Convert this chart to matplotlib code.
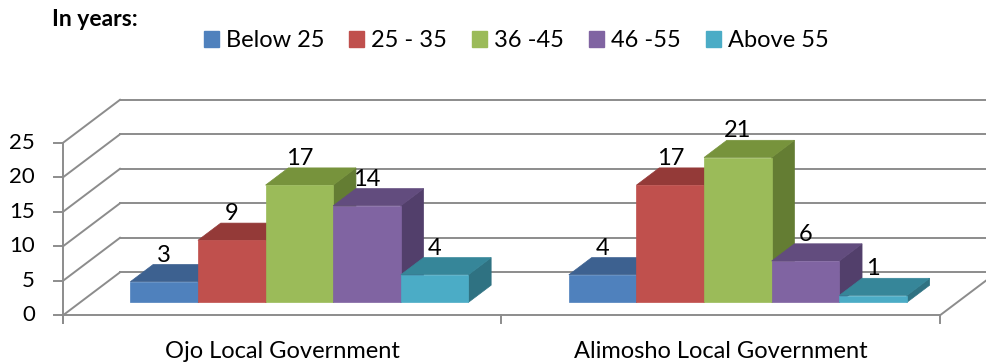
import matplotlib
matplotlib.use("Agg")
import matplotlib.pyplot as plt
from matplotlib.patches import Polygon, Patch

# ---- data ----
categories = ["Ojo Local Government", "Alimosho Local Government"]
series = ["Below 25", "25 - 35", "36 -45", "46 -55", "Above 55"]
values = {
    "Below 25": [3, 4],
    "25 - 35": [9, 17],
    "36 -45": [17, 21],
    "46 -55": [14, 6],
    "Above 55": [4, 1],
}
y_ticks = [0, 5, 10, 15, 20, 25]

front_colors = ["#4F81BD", "#C0504D", "#9BBB59", "#8064A2", "#4BACC6"]
top_colors = ["#3D6190", "#943A38", "#77933C", "#624C7E", "#368699"]
side_colors = ["#2F4D73", "#7A2F2D", "#647D33", "#523F6B", "#2F7282"]

plt.rcParams['font.family'] = ['Lato', 'DejaVu Sans']

fig = plt.figure(figsize=(9.87, 3.62), dpi=100)
ax = fig.add_axes([0, 0, 1, 1])
ax.set_axis_off()

# axes scale (category units horizontally, value units vertically)
px_per_cat = 438.5
px_per_val = 6.9
x0_px, y0_px = 63, 315.3
ax.set_xlim(-x0_px / px_per_cat, (987 - x0_px) / px_per_cat)
ax.set_ylim((y0_px - 362) / px_per_val, y0_px / px_per_val)

DX = 57 / px_per_cat   # depth offset in category units
DY = 43 / px_per_val   # depth offset in value units
ncat = len(categories)
vmax = y_ticks[-1]

def P(x, v, d):
    return (x + d * DX, v + d * DY)

grid_c = "#8C8C8C"
glw = 1.4

# back wall gridlines and left wall diagonals
for t in y_ticks:
    a = P(0, t, 1); b = P(ncat, t, 1)
    ax.plot([a[0], b[0]], [a[1], b[1]], color=grid_c, lw=glw, zorder=1, clip_on=False)
    f = P(0, t, 0)
    ax.plot([f[0], a[0]], [f[1], a[1]], color=grid_c, lw=glw, zorder=1)
    # tick mark on front axis
    ax.plot([f[0] - 9 / px_per_cat, f[0]], [t, t], color=grid_c, lw=glw, zorder=1)
    ax.text(f[0] - 28 / px_per_cat, t, str(t), ha="right", va="center",
            fontsize=16, color="black")

# floor
fl = P(0, 0, 0); fr = P(ncat, 0, 0); br = P(ncat, 0, 1)
ax.plot([fl[0], fr[0]], [0, 0], color=grid_c, lw=glw, zorder=1)
ax.plot([fr[0], br[0]], [fr[1], br[1]], color=grid_c, lw=glw, zorder=1)
# front vertical axis
tick_len = 8 / px_per_val
ax.plot([0, 0], [-tick_len, vmax], color=grid_c, lw=glw, zorder=1)
for c in range(ncat + 1):
    ax.plot([c, c], [-tick_len, 0], color=grid_c, lw=glw, zorder=1)

# bars
bw = 67.6 / px_per_cat
d0, d1 = 0.3, 0.7
z = 3
for ci, cat in enumerate(categories):
    start = ci + 0.5 - len(series) * bw / 2
    for si, s in enumerate(series):
        v = values[s][ci]
        xl = start + si * bw
        xr = xl + bw
        front = [P(xl, 0, d0), P(xr, 0, d0), P(xr, v, d0), P(xl, v, d0)]
        top = [P(xl, v, d0), P(xr, v, d0), P(xr, v, d1), P(xl, v, d1)]
        side = [P(xr, 0, d0), P(xr, 0, d1), P(xr, v, d1), P(xr, v, d0)]
        ax.add_patch(Polygon(side, closed=True, facecolor=side_colors[si],
                             edgecolor=side_colors[si], lw=0.5, zorder=z))
        ax.add_patch(Polygon(top, closed=True, facecolor=top_colors[si],
                             edgecolor=top_colors[si], lw=0.5, zorder=z))
        ax.add_patch(Polygon(front, closed=True, facecolor=front_colors[si],
                             edgecolor=front_colors[si], lw=0.5, zorder=z))
        z += 1
        lx = (xl + xr) / 2 + d0 * DX
        ly = v + d1 * DY + 1.35
        ax.text(lx, ly, str(v), ha="center", va="center", fontsize=17,
                color="black", zorder=100)
    ax.text(ci + 0.5, -5.2, cat, ha="center", va="center", fontsize=17, color="black")

# legend
handles = [Patch(facecolor=c, edgecolor=c) for c in front_colors]
fig.legend(handles, series, loc="center", bbox_to_anchor=(0.523, 0.888), ncol=5,
           frameon=False, fontsize=17, handlelength=0.64, handleheight=0.64,
           handletextpad=0.3, columnspacing=1.05, borderaxespad=0)
fig.text(52 / 987, 1 - 20 / 362, "In years:", ha="left", va="center",
         fontsize=16.5, fontweight="bold", color="black")

fig.savefig("out.png", dpi=100)
